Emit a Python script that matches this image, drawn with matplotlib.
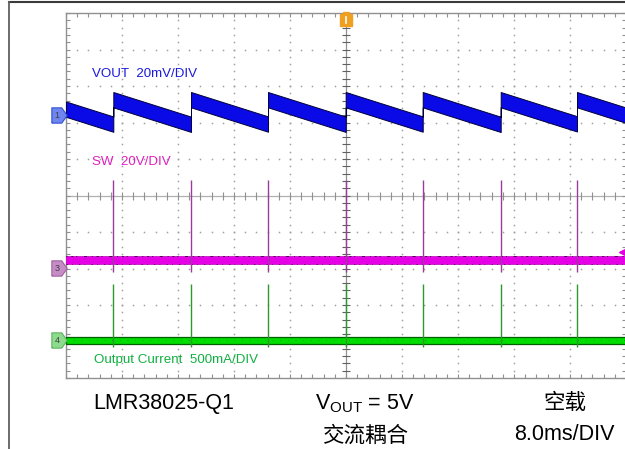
import numpy as np
import matplotlib
matplotlib.use("Agg")
import matplotlib.pyplot as plt
from matplotlib.lines import Line2D

plt.rcParams['font.family'] = ['Liberation Sans', 'Noto Sans CJK SC', 'DejaVu Sans']
plt.rcParams['mathtext.fontset'] = 'custom'
plt.rcParams['mathtext.rm'] = 'Liberation Sans'
plt.rcParams['mathtext.it'] = 'Liberation Sans'

# ---------------- data ----------------
MS_PER_DIV = 8.0
VOUT_MV_PER_DIV = 20.0
SW_V_PER_DIV = 20.0
IOUT_MA_PER_DIV = 500.0

# switching burst instants (ms from left edge of screen)
burst_times_ms = [6.76, 17.86, 28.86, 39.96, 50.96, 62.10, 73.00]

# channel offsets (divisions from screen centre)
ch1_offset_div = 2.205
ch3_offset_div = -1.99
ch4_offset_div = -3.96

# VOUT ripple (mV, AC coupled, relative to ch1 marker)
vout_peak_mv = 8.4
vout_valley_mv = -5.0
vout_noise_mv = 4.2

# SW node (V relative to ch3 marker)
sw_base_v = 4.5
sw_noise_v = 2.0
sw_spike_top_v = 48.2
sw_spike_bottom_v = -2.2

# output current (mA relative to ch4 marker)
iout_base_ma = 0.0
iout_noise_ma = 48.0
iout_spike_top_ma = 765.0
iout_spike_bottom_ma = -96.0

# ---------------- figure ----------------
W, H = 625, 449
fig = plt.figure(figsize=(W / 100, H / 100), dpi=100)
fig.patch.set_facecolor('white')

ax_l, ax_r, ax_t, ax_b = 66, 626, 13, 378
ax = fig.add_axes([ax_l / W, 1 - ax_b / H, (ax_r - ax_l) / W, (ax_b - ax_t) / H])
ax.set_xlim(0, 10)
ax.set_ylim(-5, 5)
ax.set_facecolor('white')

grid_c = '#a0a0a0'
for s in ax.spines.values():
    s.set_color('#909090')
    s.set_linewidth(1.0)
minor = np.round(np.arange(0, 10.001, 0.2), 3)
ax.set_xticks(minor)
ax.set_yticks(minor - 5)
ax.tick_params(direction='in', length=3, width=0.8, color='#909090',
               top=True, right=True, labelbottom=False, labelleft=False)

# dotted grid
for i in range(1, 10):
    if i == 5:
        continue
    ax.plot(np.full(minor.size, i), minor - 5, ls='none', marker='s', ms=1.1,
            color=grid_c, mew=0, zorder=1)
    ax.plot(minor, np.full(minor.size, i - 5), ls='none', marker='s', ms=1.1,
            color=grid_c, mew=0, zorder=1)
# centre cross with ticks
ax.axvline(5, color='#909090', lw=0.9, zorder=1)
ax.axhline(0, color='#b0b0b0', lw=0.9, zorder=1)
ax.plot(np.full(minor.size, 5), minor - 5, ls='none', marker='_', ms=6,
        color='#606060', mew=0.8, zorder=1)
ax.plot(minor, np.zeros(minor.size), ls='none', marker='|', ms=6,
        color='#909090', mew=0.8, zorder=1)

# ---------------- VOUT sawtooth ----------------
bt = np.array(burst_times_ms) / MS_PER_DIV
period = np.mean(np.diff(bt))
xs, ys = [], []
start_frac = (0 - (bt[0] - period)) / period
xs += [0, bt[0]]
ys += [vout_peak_mv + (vout_valley_mv - vout_peak_mv) * start_frac, vout_valley_mv]
ends = list(bt[1:]) + [10.0]
for a, b in zip(bt, ends):
    frac = (b - a) / period
    xs += [a, b]
    ys += [vout_peak_mv, vout_peak_mv + (vout_valley_mv - vout_peak_mv) * frac]
xs = np.array(xs)
ys = np.array(ys) / VOUT_MV_PER_DIV + ch1_offset_div
nw = vout_noise_mv / VOUT_MV_PER_DIV
ax.fill_between(xs, ys - nw, ys + nw, facecolor='#0a0ae6', edgecolor='#00003a',
                lw=0.7, zorder=4)

# ---------------- SW ----------------
sw_c = ch3_offset_div + sw_base_v / SW_V_PER_DIV
sww = sw_noise_v / SW_V_PER_DIV
ax.fill_between([0, 10], sw_c - sww, sw_c + sww, facecolor='#e600e6',
                edgecolor='#c000c0', lw=0.5, zorder=4)
ax.plot([0, 10], [sw_c + sww, sw_c + sww], color='#400040', lw=0.7,
        dashes=(1, 4, 2, 3, 1, 7, 3, 5), zorder=5)
ax.plot([0, 10], [sw_c - sww, sw_c - sww], color='#300030', lw=0.5,
        dashes=(2, 6, 1, 9), zorder=5)
ax.vlines(bt, ch3_offset_div + sw_spike_bottom_v / SW_V_PER_DIV,
          ch3_offset_div + sw_spike_top_v / SW_V_PER_DIV,
          color='#9a3c9a', lw=1.0, zorder=6)

# ---------------- IOUT ----------------
io_c = ch4_offset_div + iout_base_ma / IOUT_MA_PER_DIV
iow = iout_noise_ma / IOUT_MA_PER_DIV
ax.fill_between([0, 10], io_c - iow, io_c + iow, facecolor='#00dd00',
                edgecolor='#005f00', lw=0.9, zorder=4)
ax.plot([0, 10], [io_c, io_c], color='#007700', lw=0.5, dashes=(1, 10), zorder=5)
ax.vlines(bt, ch4_offset_div + iout_spike_bottom_ma / IOUT_MA_PER_DIV,
          ch4_offset_div + iout_spike_top_ma / IOUT_MA_PER_DIV,
          color='#2a9a2a', lw=1.0, zorder=6)

# ---------------- markers ----------------
mk = [(-1, -1), (0.3, -1), (1, 0), (0.3, 1), (-1, 1), (-1, -1)]
for off, fc, ec, lab in [(ch1_offset_div, '#6f86f0', '#3050d0', '1'),
                         (ch3_offset_div, '#c58cc5', '#a060a0', '3'),
                         (ch4_offset_div, '#8ddc8d', '#60b060', '4')]:
    ax.plot([-0.13], [off], marker=mk, ms=11, mfc=fc, mec=ec, mew=0.8,
            clip_on=False, zorder=8)
    ax.text(-0.16, off, lab, fontsize=6.5, color='#404040', ha='center',
            va='center', clip_on=False, zorder=9)
# trigger position marker
ax.plot([5], [4.82], marker='s', ms=8, mfc='#f0a020', mec='#f0a020',
        clip_on=False, zorder=8)
ax.plot([5], [4.95], marker='v', ms=5, mfc='#f0a020', mec='#f0a020',
        clip_on=False, zorder=8)
ax.plot([5, 5], [4.72, 4.88], color='white', lw=1.2, zorder=9)
# trigger level marker
ax.plot([9.92], [(195.5 - 252) / 36.5], marker='<', ms=4, color='#e000e0',
        zorder=8, clip_on=False)

# ---------------- labels ----------------
def ftext(x, y, s, **kw):
    fig.text(x / W, 1 - y / H, s, **kw)

ftext(92, 74, 'VOUT  20mV/DIV', fontsize=9.6, color='#1a1adc', va='center')
ftext(92, 162, 'SW  20V/DIV', fontsize=9.6, color='#e020c0', va='center')
ftext(94, 360, 'Output Current  500mA/DIV', fontsize=9.6, color='#10b040', va='center')

ftext(164, 403, 'LMR38025-Q1', fontsize=15.5, ha='center', va='center', color='black')
ftext(365, 404, r'V$_{\mathrm{OUT}}$ = 5V', fontsize=15.5, ha='center', va='center', color='black')
ftext(565, 403, '空载', fontsize=15.5, ha='center', va='center', color='black',
      family=['Noto Sans CJK SC', 'DejaVu Sans'])
ftext(365, 436, '交流耦合', fontsize=15.5, ha='center', va='center', color='black',
      family=['Noto Sans CJK SC', 'DejaVu Sans'])
ftext(564, 434, '8.0ms/DIV', fontsize=15.5, ha='center', va='center', color='black')

# outer frame (top and left)
fig.add_artist(Line2D([9 / W, 1], [1 - 1.5 / H, 1 - 1.5 / H], color='#3a3a3a', lw=1.5))
fig.add_artist(Line2D([9 / W, 9 / W], [0, 1 - 1.5 / H], color='#606060', lw=1.3))

fig.savefig('out.png', dpi=100)
